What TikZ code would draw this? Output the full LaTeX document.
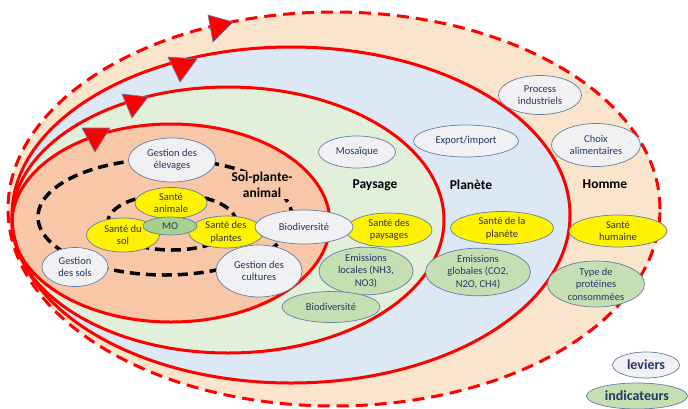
\documentclass[tikz,border=0pt]{standalone}
\usepackage{fontspec}
\setmainfont{Carlito}
\usepackage{tikz}
\usetikzlibrary{shapes.geometric}

\definecolor{hommefill}{HTML}{FAE4CB}
\definecolor{planetefill}{HTML}{DCE8F4}
\definecolor{paysagefill}{HTML}{E2EFDA}
\definecolor{solfill}{HTML}{F7C7A8}
\definecolor{levierfill}{HTML}{F1F1F3}
\definecolor{indicfill}{HTML}{C5DFB3}
\definecolor{mofill}{HTML}{A8CF8C}
\definecolor{bordgris}{HTML}{5F7FA8}
\definecolor{textbleu}{HTML}{1F3864}
\definecolor{rouge}{HTML}{FF0000}

\begin{document}
\begin{tikzpicture}[x=1pt,y=-1pt,
    cercle/.style={draw=rouge,line width=3pt},
    pointille/.style={draw=black,line width=3.5pt,dash pattern=on 10pt off 6pt},
    bulle/.style={ellipse,draw=bordgris,line width=0.7pt,inner sep=0pt,align=center,
        font=\fontsize{10.5}{12.5}\selectfont},
    levier/.style={bulle,fill=levierfill,text=textbleu},
    indic/.style={bulle,fill=indicfill,text=textbleu},
    sante/.style={bulle,fill=yellow,text=black!80},
    titre/.style={font=\fontsize{13.5}{16}\selectfont\bfseries,align=center},
    legende/.style={font=\fontsize{14}{16}\selectfont\bfseries},
    fleche/.style={fill=rouge,draw=bordgris,line width=0.6pt,line join=round}]
    \useasboundingbox (0,0) rectangle (688,408);

    % les quatre echelles
    \fill[hommefill] (334,209) ellipse [x radius=326pt, y radius=197pt];
    \fill[planetefill] (291,215) ellipse [x radius=279pt, y radius=168pt];
    \fill[paysagefill] (228,220) ellipse [x radius=216pt, y radius=133pt];
    \fill[solfill] (171,223) ellipse [x radius=159pt, y radius=99pt];

    \draw[cercle,dash pattern=on 12pt off 7pt] (334,209) ellipse [x radius=326pt, y radius=197pt];
    \draw[cercle] (291,215) ellipse [x radius=279pt, y radius=168pt];
    \draw[cercle] (228,220) ellipse [x radius=216pt, y radius=133pt];
    \draw[cercle] (171,223) ellipse [x radius=159pt, y radius=99pt];

    \draw[pointille] (165,217) ellipse [x radius=127pt, y radius=58pt];
    \draw[pointille] (172,222) ellipse [x radius=64pt, y radius=28pt];

    % sens de rotation
    \foreach \a/\b/\c in {{(208,15)}/{(233,22)}/{(213,42)},
                          {(168,57)}/{(197,59)}/{(180,82)},
                          {(122,94)}/{(148,97)}/{(132,118)},
                          {(82,128)}/{(110,128)}/{(95,152)}}{
        \draw[fleche] \a -- \b -- \c -- cycle;
    }

    % sol-plante-animal
    \node[levier,minimum width=87pt,minimum height=44pt] (elevages) at (172,160) {Gestion des\\élevages};
    \node[titre,fill=solfill,inner sep=1pt] (solplante) at (262,185) {Sol-plante-\\animal};
    \node[sante,minimum width=72pt,minimum height=31pt] (sanani) at (171,203) {Santé\\animale};
    \node[sante,minimum width=73pt,minimum height=34pt] (sansol) at (123,235) {Santé du\\sol};
    \node[sante,minimum width=75pt,minimum height=32pt] (sanplantes) at (226,232) {Santé des\\plantes};
    \node[bulle,fill=mofill,text=textbleu,minimum width=54pt,minimum height=18pt] (mo) at (170,226) {MO};
    \node[levier,minimum width=66pt,minimum height=39pt] (gsols) at (75,267) {Gestion\\des sols};
    \node[levier,minimum width=86pt,minimum height=52pt] (gcultures) at (259,271) {Gestion des\\cultures};

    % paysage
    \node[levier,minimum width=77pt,minimum height=32pt] (mosaique) at (357,152) {Mosaïque};
    \node[titre] (paysage) at (375,185) {Paysage};
    \node[sante,minimum width=86pt,minimum height=34pt] (sanpaysages) at (389,230) {Santé des\\paysages};
    \node[levier,minimum width=98pt,minimum height=34pt] (biodiv) at (304,227) {Biodiversité};
    \node[indic,minimum width=94pt,minimum height=38pt] (emloc) at (366,271) {Emissions\\locales (NH3,\\NO3)};
    \node[indic,minimum width=98pt,minimum height=31pt] (biodivind) at (331,307) {Biodiversité};

    % planete
    \node[levier,minimum width=105pt,minimum height=32pt] (export) at (466,141) {Export/import};
    \node[titre] (planete) at (471,185) {Planète};
    \node[sante,minimum width=103pt,minimum height=33pt] (sanplanete) at (502,228) {Santé de la\\planète};
    \node[indic,minimum width=105pt,minimum height=39pt] (emglob) at (478,272) {Emissions\\globales (CO2,\\N2O, CH4)};

    % homme
    \node[levier,minimum width=83pt,minimum height=39pt] (process) at (540,95) {Process\\industriels};
    \node[levier,minimum width=89pt,minimum height=43pt] (choix) at (596,145) {Choix\\alimentaires};
    \node[titre] (homme) at (605,184) {Homme};
    \node[sante,minimum width=98pt,minimum height=32pt] (sanhumaine) at (618,231) {Santé\\humaine};
    \node[indic,minimum width=97pt,minimum height=46pt] (proteines) at (596,284) {Type de\\protéines\\consommées};

    % legende
    \node[levier,legende,minimum width=67pt,minimum height=26pt] (legleviers) at (646,365) {leviers};
    \node[indic,legende,minimum width=101pt,minimum height=26pt] (legindic) at (637,396) {indicateurs};
\end{tikzpicture}
\end{document}
